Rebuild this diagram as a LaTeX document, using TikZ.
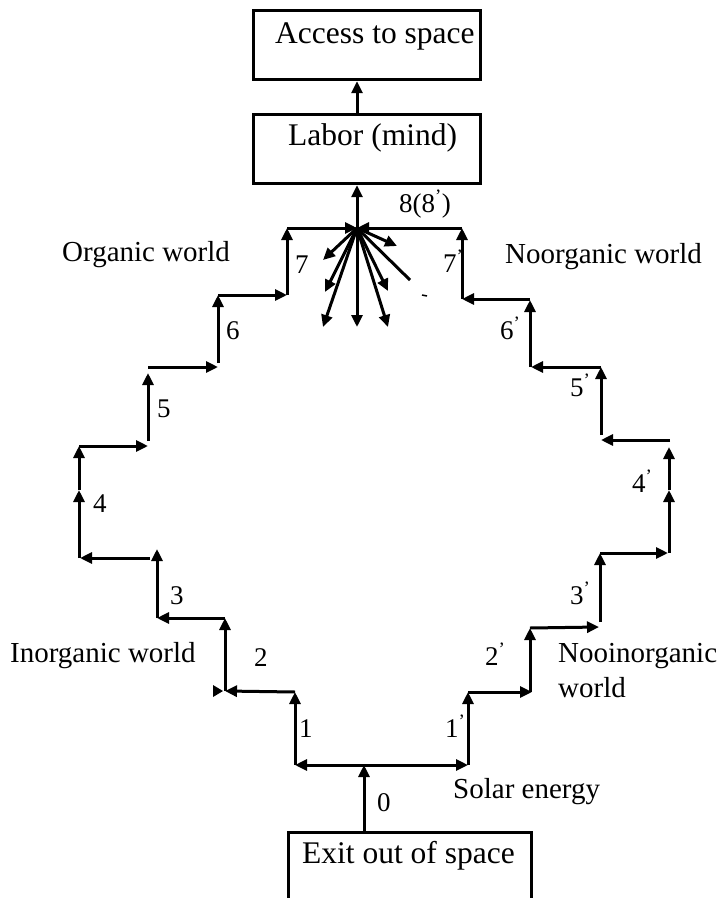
\documentclass[tikz,border=0pt]{standalone}
\usepackage{fontspec}
\setmainfont{Liberation Serif}
\usetikzlibrary{arrows.meta}
\begin{document}
\begin{tikzpicture}[x=1pt,y=-1pt,
  conn/.style={line width=3pt, -{Triangle[length=12pt,width=11pt]}},
  plainline/.style={line width=3pt},
  boxshape/.style={draw, line width=3.2pt, rectangle, inner sep=0pt, anchor=north west},
  boxtext/.style={font=\fontsize{31.5}{36}\selectfont, inner sep=0pt, anchor=base west},
  lbl/.style={font=\fontsize{29}{34}\selectfont, inner sep=0pt, anchor=base west},
  num/.style={font=\fontsize{27}{30}\selectfont, inner sep=0pt, anchor=base west},
]
\useasboundingbox (0,0) rectangle (723,898);

% boxes
\node[boxshape, minimum width=227pt, minimum height=69pt] (access) at (252,9) {};
\node[boxshape, minimum width=227pt, minimum height=69pt] (labor) at (252,113) {};
\node[boxshape, minimum width=243pt, minimum height=67pt] (exit) at (287,831) {};
\node[boxtext] (accesst) at (275,43) {Access to space};
\node[boxtext] (labort) at (288,145) {Labor (mind)};
\node[boxtext] (exitt) at (302,863) {Exit out of space};

% hub and main vertical
\coordinate (hub) at (357,228);
\draw[conn] (hub) -- (hub |- labor.south);
\draw[conn] (hub |- labor.north) -- (hub |- access.south);

% bottom
\coordinate (sun) at (364,765);
\coordinate (L0) at (295,765);
\coordinate (R0) at (468,765);
\draw[conn] (exit.north -| sun) -- (sun);
\draw[conn] (sun) -- (L0);
\draw[conn] (sun) -- (R0);

% left staircase
\coordinate (L1) at (295,692);
\coordinate (L1b) at (225,691);
\coordinate (L2) at (225,618);
\coordinate (L2b) at (157,618);
\coordinate (L3) at (157,549);
\coordinate (L3s) at (150,558);
\coordinate (L3b) at (80,558);
\coordinate (L4s) at (79,558);
\coordinate (L4m) at (79,490);
\coordinate (L4) at (79,446);
\coordinate (L4b) at (148,446);
\coordinate (L5s) at (148,441);
\coordinate (L5) at (148,373);
\coordinate (L5h) at (148,367);
\coordinate (L5b) at (218,367);
\coordinate (L6s) at (218,363);
\coordinate (L6) at (218,295);
\coordinate (L6b) at (287,295);
\coordinate (L7) at (287,228);
\draw[conn] (L0) -- (L1);
\draw[conn] (L1) -- (L1b);
\draw[conn] (L1b) -- (L2);
\draw[conn] (L2) -- (L2b);
\draw[conn] (L2b) -- (L3);
\draw[conn] (L3s) -- (L3b);
\draw[conn] (L4s) -- (L4m);
\draw[conn] (L4m) -- (L4);
\draw[conn] (L4) -- (L4b);
\draw[conn] (L5s) -- (L5);
\draw[conn] (L5h) -- (L5b);
\draw[conn] (L6s) -- (L6);
\draw[conn] (L6) -- (L6b);
\draw[conn] (L6b) -- (L7);
\draw[conn] (L7) -- (hub);
\fill (213,685) -- (223,691) -- (213,697) -- cycle;

% right staircase
\coordinate (R1) at (468,692);
\coordinate (R1b) at (532,692);
\coordinate (R2s) at (530,692);
\coordinate (R2) at (530,628);
\coordinate (R2b) at (599,627);
\coordinate (R3s) at (600,622);
\coordinate (R3) at (600,553);
\coordinate (R3b) at (668,553);
\coordinate (R4s) at (669,553);
\coordinate (R4m) at (669,490);
\coordinate (R4) at (669,447);
\coordinate (R4h) at (670,440);
\coordinate (R4b) at (601,440);
\coordinate (R5s) at (601,435);
\coordinate (R5) at (601,367);
\coordinate (R5b) at (531,367);
\coordinate (R6s) at (530,367);
\coordinate (R6) at (530,300);
\coordinate (R6h) at (530,299);
\coordinate (R6b) at (462,299);
\coordinate (R7) at (462,228);
\draw[conn] (R0) -- (R1);
\draw[conn] (R1) -- (R1b);
\draw[conn] (R2s) -- (R2);
\draw[conn] (R2) -- (R2b);
\draw[conn] (R3s) -- (R3);
\draw[conn] (R3) -- (R3b);
\draw[conn] (R4s) -- (R4m);
\draw[conn] (R4m) -- (R4);
\draw[conn] (R4h) -- (R4b);
\draw[conn] (R5s) -- (R5);
\draw[conn] (R5) -- (R5b);
\draw[conn] (R6s) -- (R6);
\draw[conn] (R6h) -- (R6b);
\draw[conn] (R6b) -- (R7);
\draw[conn] (R7) -- (hub);

% fan
\coordinate (F1) at (323,260);
\coordinate (F2) at (325,292);
\coordinate (F3) at (323,327);
\coordinate (F4) at (357,327);
\coordinate (F5) at (388,327);
\coordinate (F6) at (388,291);
\coordinate (F7) at (397,246);
\coordinate (F8) at (410,280);
\foreach \f in {F1,F2,F3,F4,F5,F6,F7} \draw[conn] (hub) -- (\f);
\draw[plainline] (hub) -- (F8);
\draw[line width=1.5pt] (422,295) -- (427,296);

% labels
\node[lbl] (org) at (62,261) {Organic world};
\node[lbl] (noorg) at (505,263) {Noorganic world};
\node[lbl] (inorg) at (10,662) {Inorganic world};
\node[lbl] (nooin1) at (558,662) {Nooinorganic};
\node[lbl] (nooin2) at (558,697) {world};
\node[lbl] (solar) at (453,798) {Solar energy};

% numbers
\node[num] (n0) at (377,811) {0};
\node[num] (n1) at (299,737) {1};
\node[num] (n1p) at (445,737) {1\textsuperscript{’}};
\node[num] (n2) at (254,666) {2};
\node[num] (n2p) at (485,665) {2\textsuperscript{’}};
\node[num] (n3) at (170,604) {3};
\node[num] (n3p) at (570,604) {3\textsuperscript{’}};
\node[num] (n4) at (93,512) {4};
\node[num] (n4p) at (632,492) {4\textsuperscript{’}};
\node[num] (n5) at (157,417) {5};
\node[num] (n5p) at (570,396) {5\textsuperscript{’}};
\node[num] (n6) at (226,339) {6};
\node[num] (n6p) at (500,339) {6\textsuperscript{’}};
\node[num] (n7) at (295,273) {7};
\node[num] (n7p) at (443,272) {7\textsuperscript{’}};
\node[num] (n8) at (399,212) {8(8\textsuperscript{’})};
\end{tikzpicture}
\end{document}
